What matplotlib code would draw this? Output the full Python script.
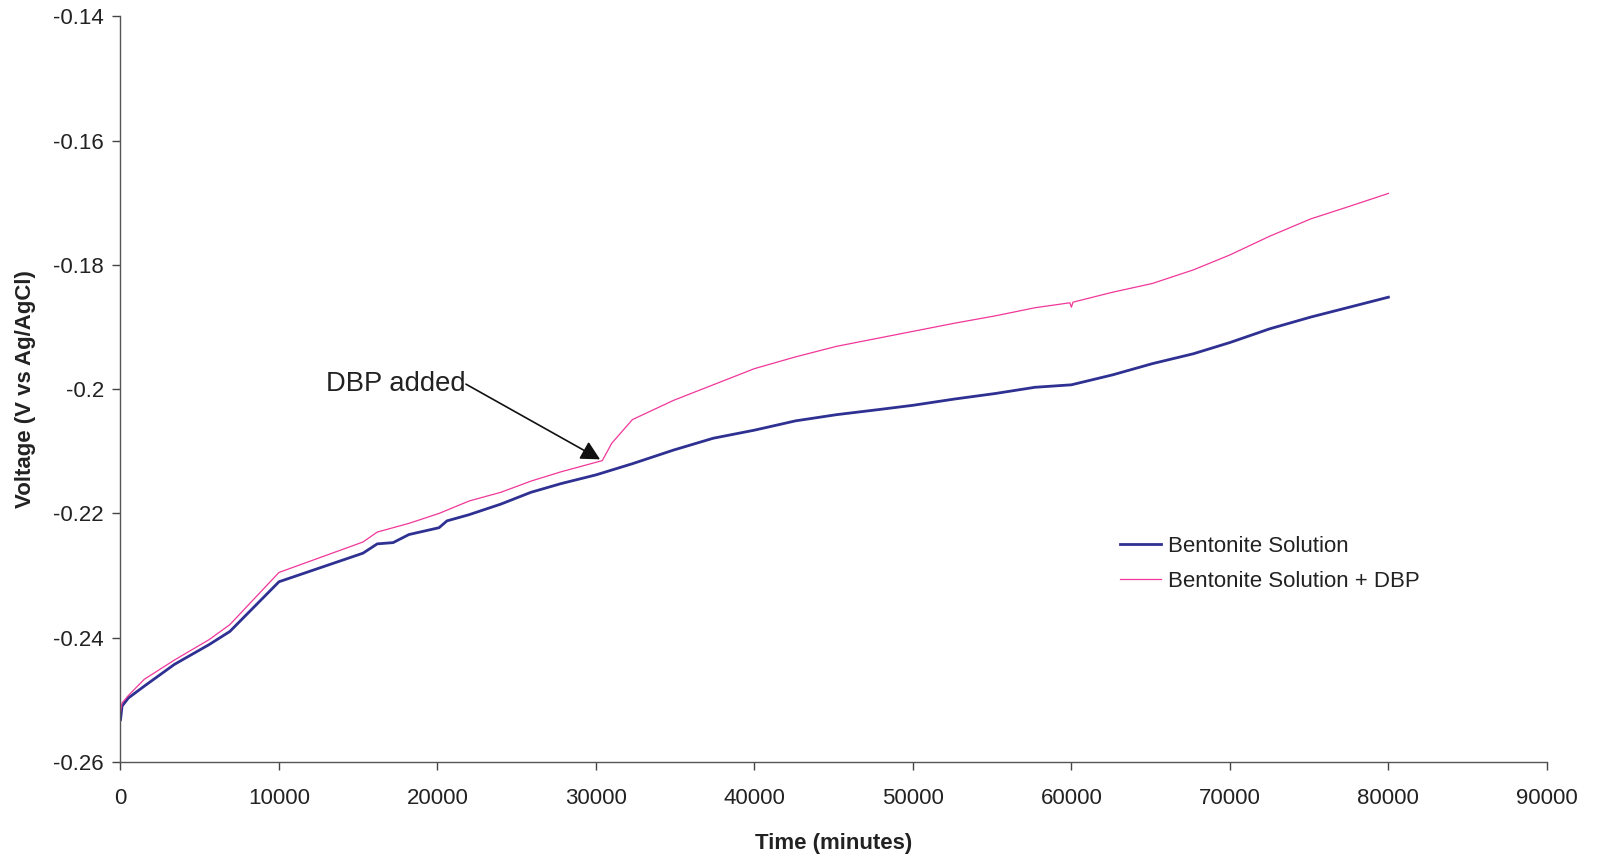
import matplotlib
matplotlib.use("Agg")
import matplotlib.pyplot as plt

plt.rcParams['font.family'] = ['Liberation Sans', 'DejaVu Sans']

# Time (minutes)
time_blue = [0, 100, 500, 1500, 3400, 5600, 6900, 10000, 15300, 16200, 17200, 18200,
             20100, 20600, 22000, 24000, 25900, 27800, 30000, 32300, 34900, 37400,
             40000, 42600, 45200, 47800, 50000, 52600, 55200, 57700, 60000, 62600,
             65100, 67700, 70000, 72500, 75100, 77400, 80000]
volt_blue = [-0.2532, -0.2510, -0.2497, -0.2478, -0.2443, -0.2411, -0.2390, -0.2310, -0.2264,
             -0.2249, -0.2247, -0.2234, -0.2223, -0.2212, -0.2202, -0.2185, -0.2166, -0.2152,
             -0.2138, -0.2120, -0.2098, -0.2079, -0.2066, -0.2051, -0.2041, -0.2033, -0.2026,
             -0.2016, -0.2007, -0.1997, -0.1993, -0.1977, -0.1959, -0.1943, -0.1925, -0.1903,
             -0.1884, -0.1869, -0.1852]

time_pink = [0, 100, 500, 1500, 3400, 5600, 6900, 10000, 15300, 16200, 18200, 20100,
             22000, 24000, 25900, 27800, 30400, 31000, 32300, 34900, 37400, 40000,
             42600, 45200, 47800, 50000, 52600, 55200, 57700, 59900, 60000, 60100,
             62600, 65100, 67700, 70000, 72500, 75100, 77400, 80000]
volt_pink = [-0.2520, -0.2505, -0.2493, -0.2467, -0.2436, -0.2403, -0.2379, -0.2295, -0.2246,
             -0.2230, -0.2216, -0.2200, -0.2180, -0.2166, -0.2148, -0.2133, -0.2115, -0.2087,
             -0.2049, -0.2018, -0.1993, -0.1967, -0.1948, -0.1931, -0.1918, -0.1907, -0.1894,
             -0.1882, -0.1869, -0.1861, -0.1868, -0.1860, -0.1844, -0.1830, -0.1808, -0.1784,
             -0.1754, -0.1726, -0.1707, -0.1685]

series_labels = ["Bentonite Solution", "Bentonite Solution + DBP"]
x_ticks = [0, 10000, 20000, 30000, 40000, 50000, 60000, 70000, 80000, 90000]
x_tick_labels = ["0", "10000", "20000", "30000", "40000", "50000", "60000", "70000", "80000", "90000"]
y_ticks = [-0.26, -0.24, -0.22, -0.2, -0.18, -0.16, -0.14]
y_tick_labels = ["-0.26", "-0.24", "-0.22", "-0.2", "-0.18", "-0.16", "-0.14"]
annotation_text = "DBP added"
annotation_xy = (30260, -0.2113)
annotation_text_xy = (21800, -0.1992)

fig = plt.figure(figsize=(15.98, 8.60), dpi=100)
ax = fig.add_axes([0.0754, 0.114, 0.8926, 0.867])

ax.plot(time_blue, volt_blue, color='#2E3092', lw=2.0, label=series_labels[0])
ax.plot(time_pink, volt_pink, color='#F0379A', lw=0.9, label=series_labels[1])

ax.set_xlim(0, 90000)
ax.set_ylim(-0.26, -0.14)
ax.set_xticks(x_ticks)
ax.set_xticklabels(x_tick_labels)
ax.set_yticks(y_ticks)
ax.set_yticklabels(y_tick_labels)
ax.tick_params(axis='both', direction='out', length=6, width=1, colors='#444444',
               labelcolor='#222222', labelsize=16)
ax.tick_params(axis='x', pad=13)
ax.tick_params(axis='y', pad=6)
for s in ['top', 'right']:
    ax.spines[s].set_visible(False)
for s in ['left', 'bottom']:
    ax.spines[s].set_color('#555555')
    ax.spines[s].set_linewidth(1)

ax.set_xlabel("Time (minutes)", fontsize=16, fontweight='bold', labelpad=17, color='#222222')
ax.set_ylabel("Voltage (V vs Ag/AgCl)", fontsize=16, fontweight='bold', labelpad=12, color='#222222')

ax.text(annotation_text_xy[0], annotation_text_xy[1], annotation_text, fontsize=19.7,
        color='#222222', ha='right', va='center')
ax.annotate('', xy=annotation_xy, xytext=annotation_text_xy,
            arrowprops=dict(arrowstyle='-|>,head_length=1.15,head_width=0.6',
                            mutation_scale=10, color='#111111', lw=1.2,
                            shrinkA=0, shrinkB=0))

leg = ax.legend(loc='upper left', bbox_to_anchor=(0.6866, 0.33), frameon=False,
                fontsize=16, handlelength=1.85, handletextpad=0.3, labelspacing=0.62)
for t in leg.get_texts():
    t.set_color('#222222')

fig.savefig("out.png", dpi=100)
